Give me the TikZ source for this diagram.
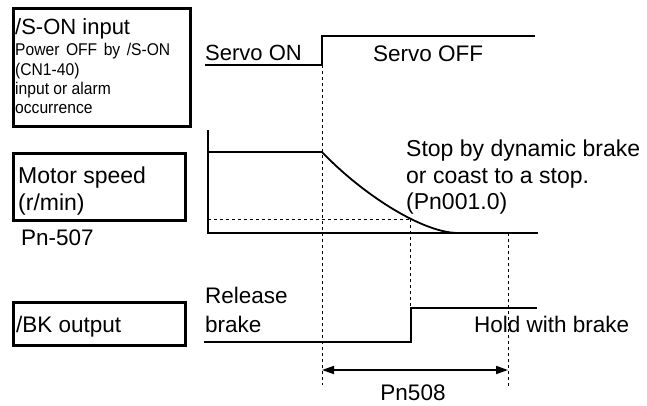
\documentclass[tikz,border=0pt]{standalone}
\usepackage{fontspec}
\setmainfont{Liberation Sans}
\newfontfamily\narrowsans[FakeStretch=0.92]{Liberation Sans}
\usetikzlibrary{arrows.meta}
\begin{document}
\begin{tikzpicture}[x=1pt,y=-1pt,
  box/.style={draw,line width=3pt,inner sep=0pt},
  big/.style={font=\fontsize{22.5}{26}\selectfont,inner sep=0pt,anchor=base west},
  bigger/.style={font=\fontsize{23}{26}\selectfont,inner sep=0pt,anchor=base west},
  small/.style={font=\narrowsans\fontsize{17}{19}\selectfont,inner sep=0pt,anchor=base west},
  wave/.style={line width=1.8pt},
  guide/.style={line width=0.9pt,dash pattern=on 3pt off 3pt},
  dim/.style={line width=1.6pt,{Triangle[length=12pt,width=8pt]}-{Triangle[length=12pt,width=8pt]}},
]
\useasboundingbox (0,0) rectangle (647,406);

% label boxes
\node[box,minimum width=177pt,minimum height=118pt] (sonbox) at (102,67.5) {};
\node[box,minimum width=172pt,minimum height=67pt] (speedbox) at (99.5,187) {};
\node[box,minimum width=172pt,minimum height=43pt] (bkbox) at (99.5,324) {};

\node[big,font=\fontsize{22}{26}\selectfont] (sontitle) at (15,35) {/S-ON input};
\node[small] (son1) at (15,56) {\spaceskip=6.5pt Power OFF by /S-ON};
\node[small] (son2) at (15,76) {(CN1-40)};
\node[small] (son3) at (15,95) {input or alarm};
\node[small] (son4) at (15,114) {occurrence};

\node[bigger] (ms1) at (18,183) {Motor speed};
\node[bigger] (ms2) at (18,210) {(r/min)};
\node[big] (pn507) at (21,245) {Pn-507};
\node[big] (bk) at (16,332) {/BK output};

% servo signal
\coordinate (s0) at (205,65);
\coordinate (s1) at (322,65);
\coordinate (s2) at (322,36);
\coordinate (s3) at (535,36);
\draw[wave] (s0) -- (s1) -- (s2) -- (s3);
\node[big,font=\fontsize{22}{26}\selectfont] (servoon) at (205,61) {Servo ON};
\node[big] (servooff) at (373,62) {Servo OFF};

% motor speed
\coordinate (axtop) at (208,130);
\coordinate (base0) at (208,233);
\coordinate (base1) at (538,233);
\coordinate (m0) at (208,152);
\coordinate (m1) at (322,152);
\coordinate (m2) at (457,233);
\coordinate (h0) at (208,219);
\coordinate (h1) at (410,219);
\draw[wave] (axtop) -- (base0) -- (base1);
\draw[wave] (m0) -- (m1) .. controls (360,192) and (420,232) .. (m2);
\draw[guide] (h0) -- (h1);

\node[bigger] (stop1) at (406,157) {Stop by dynamic brake};
\node[bigger] (stop2) at (406,183) {or coast to a stop.};
\node[bigger] (stop3) at (406,209) {(Pn001.0)};

% brake signal
\coordinate (b0) at (204,342);
\coordinate (b1) at (411,342);
\coordinate (b2) at (411,308);
\coordinate (b3) at (537,308);
\draw[wave] (b0) -- (b1) -- (b2) -- (b3);
\node[big] (rel1) at (205,303) {Release};
\node[big] (rel2) at (205,332) {brake};
\node[big] (hold) at (474,332) {Hold with brake};

% guide lines
\coordinate (g1a) at (322,65);
\coordinate (g1b) at (322,385);
\coordinate (g2a) at (410,219);
\coordinate (g2b) at (410,342);
\coordinate (g3a) at (508,233);
\coordinate (g3b) at (508,387);
\draw[guide] (g1a) -- (g1b);
\draw[guide] (g2a) -- (g2b);
\draw[guide] (g3a) -- (g3b);

% Pn508 dimension
\coordinate (d0) at (322,370);
\coordinate (d1) at (508,370);
\draw[dim] (d0) -- (d1);
\node[font=\fontsize{22.5}{26}\selectfont,inner sep=0pt,anchor=base] (pn508) at (413,400) {Pn508};
\end{tikzpicture}
\end{document}
